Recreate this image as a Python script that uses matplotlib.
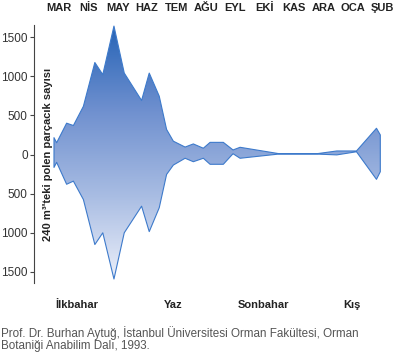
import matplotlib
matplotlib.use("Agg")
import matplotlib.pyplot as plt
import numpy as np
from matplotlib.colors import LinearSegmentedColormap
from matplotlib import transforms

plt.rcParams['font.family'] = ['Liberation Sans', 'DejaVu Sans']

months = ["MAR", "NİS", "MAY", "HAZ", "TEM", "AĞU", "EYL", "EKİ", "KAS", "ARA", "OCA", "ŞUB"]
seasons = ["İlkbahar", "Yaz", "Sonbahar", "Kış"]
season_pos = [0.6, 3.9, 6.95, 9.95]

# time in months (0 = MAR)
t = [-0.17, -0.08, 0.26, 0.49, 0.83, 1.22, 1.49, 1.87, 2.22, 2.81, 3.07, 3.41, 3.66,
     3.89, 4.29, 4.57, 4.91, 5.14, 5.59, 5.92, 6.16, 7.46, 8.81, 9.45, 10.12, 10.80, 10.93]
upper = [215, 150, 400, 370, 615, 1175, 1020, 1640, 1040, 690, 1040, 745, 320,
         170, 95, 135, 80, 155, 155, 58, 92, 12, 12, 45, 45, 335, 250]
lower = [-165, -100, -380, -340, -575, -1150, -1000, -1590, -1000, -660, -985, -680, -255,
         -135, -48, -92, -48, -125, -125, 10, -48, 5, 5, -5, 35, -317, -220]

yticks = [1500, 1000, 500, 0, -500, -1000, -1500]

fig = plt.figure(figsize=(4.0, 3.57), dpi=100)
ax = fig.add_axes([0.085, 0.2073, 0.89, 0.7227])
ax.set_xlim(-0.85, 11.26)
ax.set_ylim(-1641, 1654)

poly = ax.fill_between(t, lower, upper, facecolor='none', edgecolor='#3d7acb', linewidth=0.8, zorder=3)

cmap = LinearSegmentedColormap.from_list('g', ['#eef1fa', '#a9bde3', '#6f90cf', '#2563b6'])
grad = np.linspace(0, 1, 256).reshape(-1, 1)
im = ax.imshow(grad, extent=[min(t), max(t), -1641, 1654], origin='lower', cmap=cmap,
               aspect='auto', zorder=2)
path = poly.get_paths()[0]
im.set_clip_path(path, transform=ax.transData)

for s in ['top', 'right', 'bottom']:
    ax.spines[s].set_visible(False)
ax.spines['left'].set_color('#444444')
ax.spines['left'].set_linewidth(0.8)
ax.set_xticks([])
ax.set_yticks(yticks)
ax.set_yticklabels([str(abs(v)) for v in yticks], fontsize=8.5, color='#333333')
ax.tick_params(axis='y', length=3, width=0.8, color='#444444', pad=1.5)

trans = transforms.blended_transform_factory(ax.transData, ax.transAxes)
for i, m in enumerate(months):
    ax.text(i, 1.066, m, transform=trans, ha='center', va='center',
            fontsize=8, fontweight='bold', color='#222222')
for p, s in zip(season_pos, seasons):
    ax.text(p, -0.085, s, transform=trans, ha='center', va='center',
            fontsize=8, fontweight='bold', color='#222222')

ax.text(0.04, 0.5, "240 m³'teki polen parçacık sayısı", transform=ax.transAxes,
        rotation=90, ha='center', va='center', fontsize=8, fontweight='bold', color='#222222')

fig.text(0.003, (357 - 333) / 357, "Prof. Dr. Burhan Aytuğ, İstanbul Üniversitesi Orman Fakültesi, Orman",
         ha='left', va='center', fontsize=8.4, color='#555555')
fig.text(0.003, (357 - 346.5) / 357, "Botaniği Anabilim Dalı, 1993.",
         ha='left', va='center', fontsize=8.4, color='#555555')

fig.savefig('out.png', dpi=100)
